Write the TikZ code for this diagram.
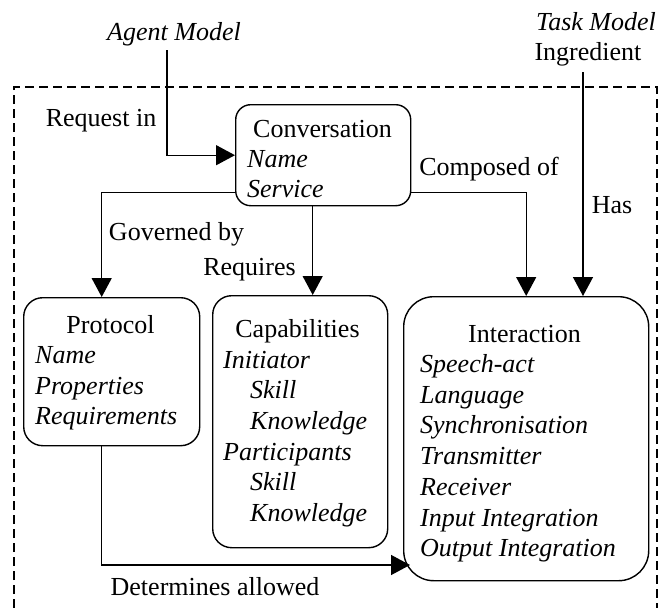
\documentclass[tikz,border=0pt]{standalone}
\usepackage{fontspec}
\setmainfont{Liberation Serif}
\usetikzlibrary{arrows.meta}
\begin{document}
\begin{tikzpicture}[x=1pt,y=-1pt,
  every node/.style={font=\fontsize{26}{30.7}\selectfont, inner sep=0pt},
  box/.style={draw, line width=1.4pt, anchor=north west, inner sep=0pt},
  title/.style={anchor=base},
  items/.style={anchor=base west},
  lbl/.style={anchor=base},
  link/.style={line width=1.4pt, -{Triangle[length=19pt,width=20pt]}},
  frame/.style={line width=1.4pt, dash pattern=on 9pt off 5pt}]
\useasboundingbox (0,0) rectangle (662,608);

% system boundary, open at the bottom
\draw[frame] (14,608) -- (14,87) -- (657,87) -- (657,608);

% entity boxes
\node[box, rounded corners=15pt, minimum width=175pt, minimum height=101pt] (conv) at (235,104) {};
\node[box, rounded corners=19pt, minimum width=176pt, minimum height=148pt] (prot) at (23,297) {};
\node[box, rounded corners=19pt, minimum width=175pt, minimum height=252pt] (cap) at (212,295) {};
\node[box, rounded corners=30pt, minimum width=245pt, minimum height=284pt] (inter) at (403,296) {};

% box contents
\node[title] (convtitle) at (322.5,137) {Conversation};
\node[items] (convitems) at (247,167) {\begin{tabular}[t]{@{}l@{}}
  \textit{Name}\\ \textit{Service}\end{tabular}};

\node[title] (prottitle) at (110.5,333) {Protocol};
\node[items] (protitems) at (35,363.5) {\begin{tabular}[t]{@{}l@{}}
  \textit{Name}\\ \textit{Properties}\\ \textit{Requirements}\end{tabular}};

\node[title] (captitle) at (297.5,337) {Capabilities};
\node[items] (capitems) at (223,368) {\begin{tabular}[t]{@{}l@{}}
  \textit{Initiator}\\
  \hspace*{27pt}\textit{Skill}\\
  \hspace*{27pt}\textit{Knowledge}\\
  \textit{Participants}\\
  \hspace*{27pt}\textit{Skill}\\
  \hspace*{27pt}\textit{Knowledge}\end{tabular}};

\node[title] (intertitle) at (524.5,342) {Interaction};
\node[items] (interitems) at (420,372.5) {\begin{tabular}[t]{@{}l@{}}
  \textit{Speech-act}\\ \textit{Language}\\ \textit{Synchronisation}\\
  \textit{Transmitter}\\ \textit{Receiver}\\ \textit{Input Integration}\\
  \textit{Output Integration}\end{tabular}};

% outside models and relation labels
\node[lbl] (agent) at (174,40) {\textit{Agent Model}};
\node[lbl] (task) at (596,30) {\textit{Task Model}};
\node[lbl] (ingr) at (588,60) {Ingredient};
\node[lbl] (reqin) at (101,126) {Request in};
\node[lbl] (comp) at (489,175) {Composed of};
\node[lbl] (has) at (612,213) {Has};
\node[lbl] (gov) at (176.5,240) {Governed by};
\node[lbl] (reqs) at (249.5,275) {Requires};
\node[lbl] (det) at (215,595) {Determines allowed};

% free line ends
\coordinate (agentdrop) at (167,50);
\coordinate (taskdrop) at (583,72);
\coordinate (detend) at (410,565);

% relations
\draw[link] (agentdrop) |- (conv.west);
\draw[link] ([yshift=14pt]conv.south west) -| ([xshift=-10pt]prot.north);
\draw[link] ([xshift=-10.5pt]conv.south) -- ([xshift=-10.5pt]conv.south |- cap.north);
\draw[link] ([yshift=14pt]conv.south east) -| (inter.north);
\draw[link] (taskdrop) -- (taskdrop |- inter.north);
\draw[link] ([xshift=-10pt]prot.south) |- (detend);
\end{tikzpicture}
\end{document}
